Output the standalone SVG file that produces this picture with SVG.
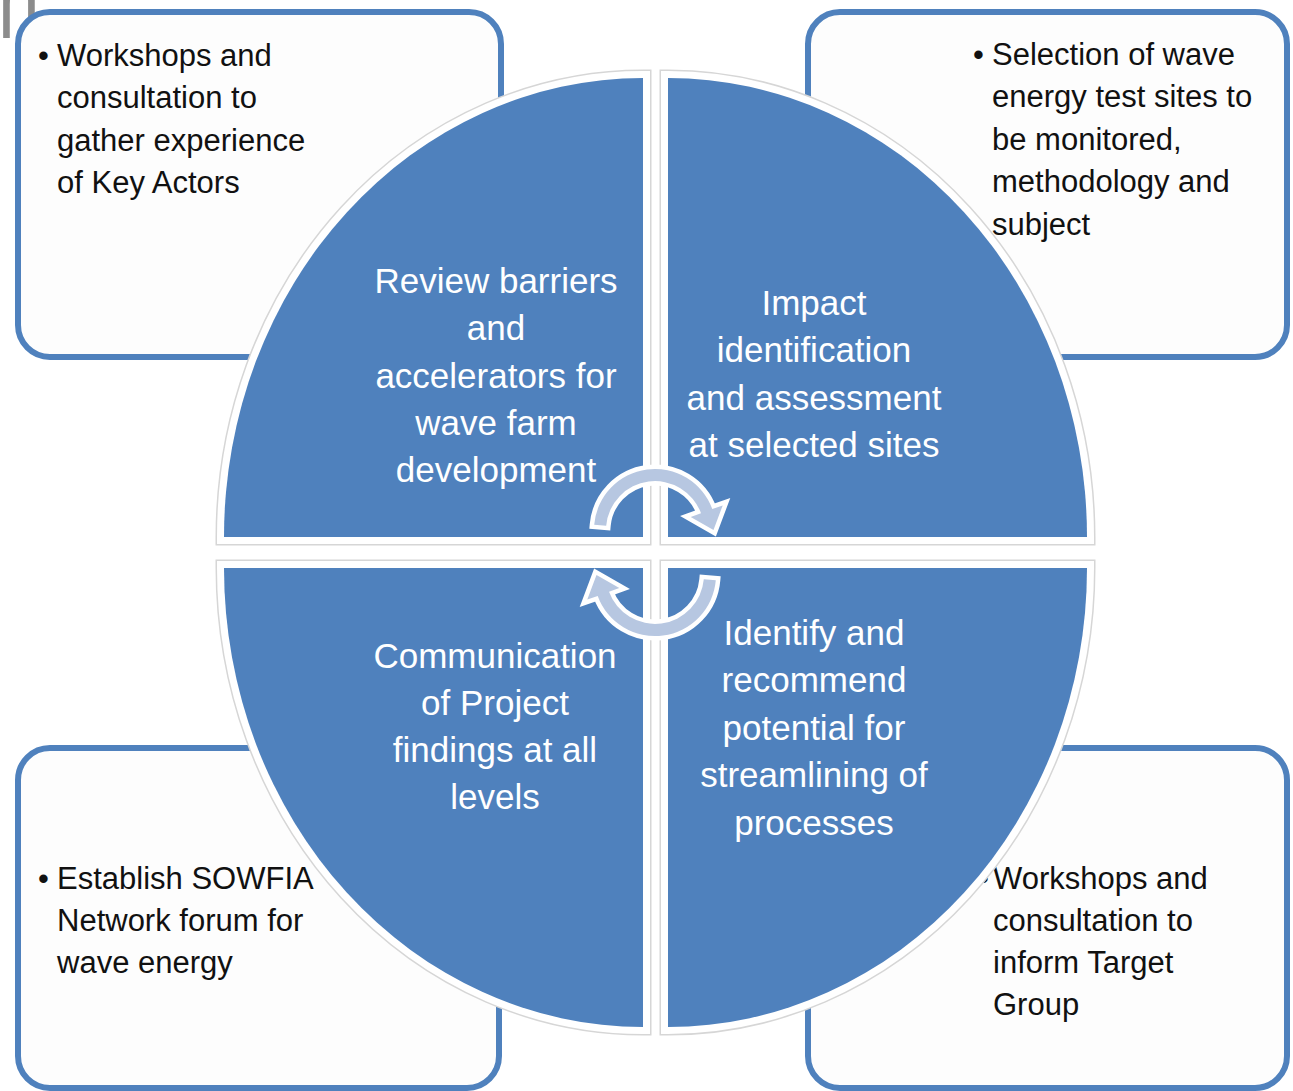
<svg xmlns="http://www.w3.org/2000/svg" width="1293" height="1091" viewBox="0 0 1293 1091">
  <defs>
    <style>
      .box{fill:#fdfdfd;stroke:#4F81BD;stroke-width:6}
      .note{font-family:"Liberation Sans",Arial,sans-serif;font-size:31px;fill:#111}
      .edge{fill:none;stroke:#d6d6d6;stroke-width:17;stroke-linejoin:miter}
      .rim{fill:none;stroke:#ffffff;stroke-width:14;stroke-linejoin:miter}
      .quad{fill:#4F81BD}
      .label{font-family:"Liberation Sans",Arial,sans-serif;font-size:35px;fill:#ffffff;text-anchor:middle}
      .cycle{fill:#B7C7E1;stroke:#ffffff;stroke-width:9;stroke-linejoin:miter;paint-order:stroke}
    </style>
    <!-- quarter-ellipse segments of the central cycle -->
    <path id="seg-tl" d="M643,537 L224,537 A419,459 0 0 1 643,78 Z"/>
    <path id="seg-tr" d="M668,537 L668,78 A419,459 0 0 1 1087,537 Z"/>
    <path id="seg-bl" d="M643,568 L643,1027 A419,459 0 0 1 224,568 Z"/>
    <path id="seg-br" d="M668,568 L1087,568 A419,459 0 0 1 668,1027 Z"/>
    <!-- curved arrow at the hub -->
    <path id="turn" d="M594.2,524.7 A61,61 0 0 1 712.3,509.1 L722.7,505.4 L713.5,530 L690.7,517 L701,513.2 A49,49 0 0 0 606.2,525.7 Z"/>
  </defs>

  <rect width="1293" height="1091" fill="#ffffff"/>

  <!-- clipped heading glyph at the top edge -->
  <text x="-3" y="38" font-family="Liberation Sans, Arial, sans-serif" font-size="110" fill="#8c8c8c" transform="scale(0.68,1)">n</text>

  <!-- corner notes -->
  <g id="note-tl">
    <rect class="box" x="18" y="12" width="483" height="345" rx="32"/>
    <text class="note" x="38" y="66">•</text>
    <text class="note" x="57" y="66">Workshops and</text>
    <text class="note" x="57" y="108">consultation to</text>
    <text class="note" x="57" y="151">gather experience</text>
    <text class="note" x="57" y="193">of Key Actors</text>
  </g>
  <g id="note-tr">
    <rect class="box" x="808" y="12" width="479" height="345" rx="32"/>
    <text class="note" x="973" y="65">•</text>
    <text class="note" x="992" y="65">Selection of wave</text>
    <text class="note" x="992" y="107">energy test sites to</text>
    <text class="note" x="992" y="150">be monitored,</text>
    <text class="note" x="992" y="192">methodology and</text>
    <text class="note" x="992" y="235">subject</text>
  </g>
  <g id="note-bl">
    <rect class="box" x="18" y="748" width="481" height="340" rx="32"/>
    <text class="note" x="38" y="889">•</text>
    <text class="note" x="57" y="889">Establish SOWFIA</text>
    <text class="note" x="57" y="931">Network forum for</text>
    <text class="note" x="57" y="973">wave energy</text>
  </g>
  <g id="note-br">
    <rect class="box" x="808" y="748" width="479" height="340" rx="32"/>
    <text class="note" x="978" y="889">•</text>
    <text class="note" x="993" y="889">Workshops and</text>
    <text class="note" x="993" y="931">consultation to</text>
    <text class="note" x="993" y="973">inform Target</text>
    <text class="note" x="993" y="1015">Group</text>
  </g>

  <!-- cycle segments -->
  <g id="stage-review">
    <use href="#seg-tl" class="edge"/>
    <use href="#seg-tl" class="rim"/>
    <use href="#seg-tl" class="quad"/>
    <text class="label" x="496" y="293">Review barriers</text>
    <text class="label" x="496" y="340">and</text>
    <text class="label" x="496" y="388">accelerators for</text>
    <text class="label" x="496" y="435">wave farm</text>
    <text class="label" x="496" y="482">development</text>
  </g>
  <g id="stage-impact">
    <use href="#seg-tr" class="edge"/>
    <use href="#seg-tr" class="rim"/>
    <use href="#seg-tr" class="quad"/>
    <text class="label" x="814" y="315">Impact</text>
    <text class="label" x="814" y="362">identification</text>
    <text class="label" x="814" y="410">and assessment</text>
    <text class="label" x="814" y="457">at selected sites</text>
  </g>
  <g id="stage-communication">
    <use href="#seg-bl" class="edge"/>
    <use href="#seg-bl" class="rim"/>
    <use href="#seg-bl" class="quad"/>
    <text class="label" x="495" y="668">Communication</text>
    <text class="label" x="495" y="715">of Project</text>
    <text class="label" x="495" y="762">findings at all</text>
    <text class="label" x="495" y="809">levels</text>
  </g>
  <g id="stage-streamlining">
    <use href="#seg-br" class="edge"/>
    <use href="#seg-br" class="rim"/>
    <use href="#seg-br" class="quad"/>
    <text class="label" x="814" y="645">Identify and</text>
    <text class="label" x="814" y="692">recommend</text>
    <text class="label" x="814" y="740">potential for</text>
    <text class="label" x="814" y="787">streamlining of</text>
    <text class="label" x="814" y="835">processes</text>
  </g>

  <!-- connectors: circular arrows at the hub -->
  <g id="connectors">
    <use href="#turn" class="cycle"/>
    <use href="#turn" class="cycle" transform="rotate(180 655 552.5)"/>
  </g>
</svg>
